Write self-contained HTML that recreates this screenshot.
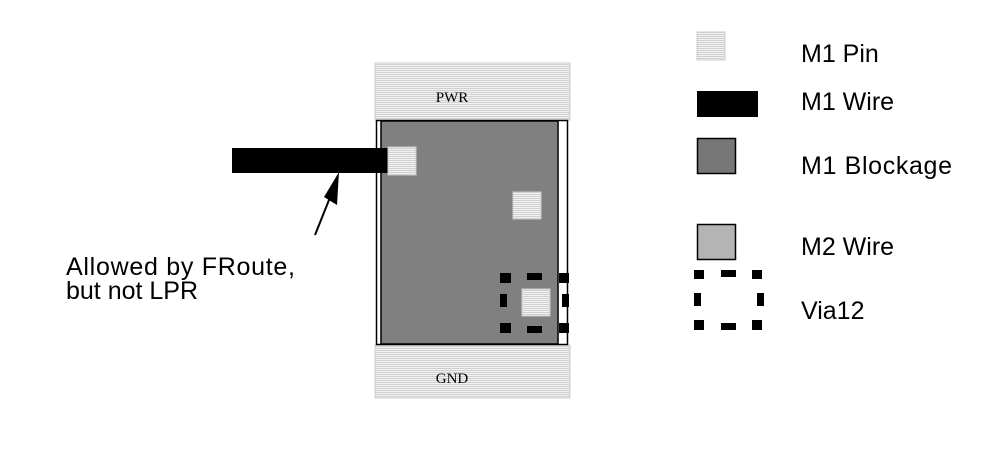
<!DOCTYPE html>
<html><head><meta charset="utf-8"><style>
html,body{margin:0;padding:0;background:#fff;width:1008px;height:457px;overflow:hidden}
svg text{font-family:"Liberation Sans",Arial,sans-serif;fill:#000}
</style></head><body>
<svg width="1008" height="457" viewBox="0 0 1008 457" xmlns="http://www.w3.org/2000/svg">
<defs>
<pattern id="h" width="4" height="2" patternUnits="userSpaceOnUse">
<rect width="4" height="2" fill="#f2f2f2"/><rect width="4" height="1" fill="#d0d0d0"/>
</pattern>
</defs>
<rect x="375" y="63" width="195" height="57" fill="url(#h)" stroke="#ccc"/>
<text x="452" y="102" font-size="15" text-anchor="middle" style="font-family:'Liberation Serif',serif">PWR</text>
<rect x="375" y="345" width="195" height="53" fill="url(#h)" stroke="#ccc"/>
<text x="452" y="383" font-size="15" text-anchor="middle" style="font-family:'Liberation Serif',serif">GND</text>
<rect x="376.5" y="120.5" width="191" height="224" fill="#fff" stroke="#000" stroke-width="1.5"/>
<rect x="381" y="121" width="177" height="223" fill="#808080" stroke="#000" stroke-width="1.5"/>
<rect x="232" y="148" width="157" height="25" fill="#000"/>
<rect x="388" y="147" width="28" height="28" fill="url(#h)" stroke="#ccc"/>
<rect x="513" y="192" width="28" height="27" fill="url(#h)" stroke="#ccc"/>
<rect x="522" y="289" width="28" height="27" fill="url(#h)" stroke="#ccc"/>
<g fill="#000">
<rect x="500" y="273" width="11" height="10"/><rect x="527" y="273" width="15" height="7"/><rect x="559" y="273" width="10" height="10"/>
<rect x="500" y="294" width="7" height="13"/><rect x="562" y="294" width="7" height="13"/>
<rect x="500" y="323" width="11" height="10"/><rect x="527" y="326" width="15" height="7"/><rect x="559" y="323" width="10" height="10"/>
</g>
<line x1="315" y1="235" x2="333" y2="190" stroke="#000" stroke-width="2"/>
<polygon points="339,172 337,205 324,197" fill="#000"/>
<text x="66" y="275" font-size="25" textLength="229">Allowed by FRoute,</text>
<text x="66" y="299" font-size="25">but not LPR</text>
<rect x="697" y="32" width="28" height="28" fill="url(#h)" stroke="#ccc"/>
<text x="801" y="62" font-size="25">M1 Pin</text>
<rect x="697" y="91" width="61" height="26" fill="#000"/>
<text x="801" y="110" font-size="25">M1 Wire</text>
<rect x="697.5" y="138.5" width="38" height="35" fill="#777" stroke="#000" stroke-width="1.5"/>
<text x="801" y="174" font-size="25" textLength="151">M1 Blockage</text>
<rect x="697.5" y="224.5" width="38" height="35" fill="#b4b4b4" stroke="#000" stroke-width="1.5"/>
<text x="801" y="255" font-size="25">M2 Wire</text>
<g fill="#000">
<rect x="694" y="270" width="10" height="9"/><rect x="721" y="270" width="15" height="7"/><rect x="752" y="270" width="10" height="9"/>
<rect x="694" y="293" width="7" height="13"/><rect x="757" y="293" width="7" height="13"/>
<rect x="694" y="320" width="10" height="10"/><rect x="721" y="323" width="15" height="7"/><rect x="752" y="320" width="10" height="10"/>
</g>
<text x="801" y="319" font-size="25">Via12</text>
</svg>
</body></html>
